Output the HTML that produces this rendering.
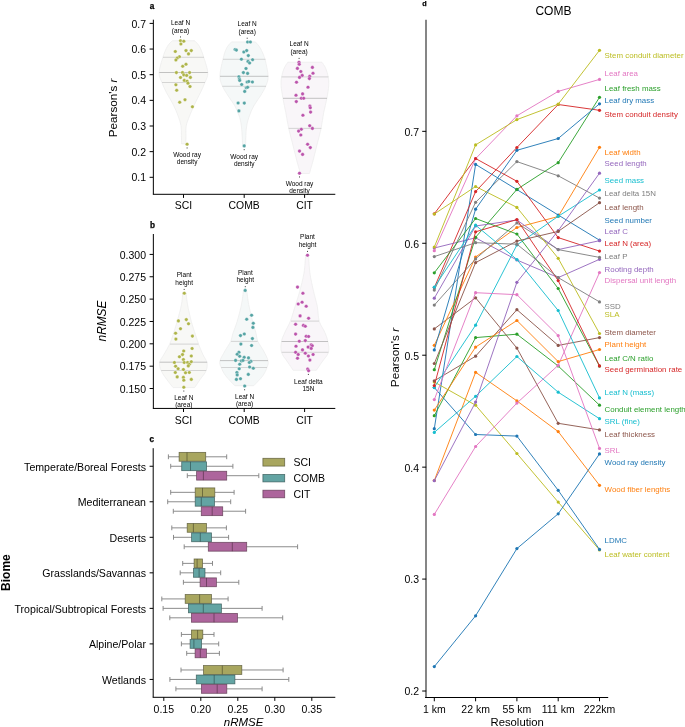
<!DOCTYPE html>
<html><head><meta charset="utf-8"><title>Figure</title>
<style>
html,body{margin:0;padding:0;background:#fff;}
body{width:685px;height:727px;overflow:hidden;font-family:"Liberation Sans", sans-serif;}
svg{display:block;will-change:transform;}
</style></head><body>
<svg width="685" height="727" viewBox="0 0 685 727" font-family='"Liberation Sans", sans-serif'>
<rect x="0" y="0" width="685" height="727" fill="#fff"/>
<path d="M172.3,40.7 C171.47,41.67 168.87,43.75 167.3,46.5 C165.73,49.25 164.27,52.85 162.9,57.2 C161.53,61.55 159.27,68.38 159.1,72.6 C158.93,76.82 160.67,79.15 161.9,82.5 C163.13,85.85 164.63,89.07 166.5,92.7 C168.37,96.33 171.17,100.43 173.1,104.3 C175.03,108.17 176.78,112.32 178.1,115.9 C179.42,119.48 180.45,122.5 181,125.8 C181.55,129.1 181.3,132.68 181.4,135.7 C181.5,138.72 181.57,142.53 181.6,143.9 L185.8,143.9 C185.83,142.53 185.93,138.72 186,135.7 C186.07,132.68 185.6,129.1 186.2,125.8 C186.8,122.5 188.2,119.48 189.6,115.9 C191,112.32 192.8,108.17 194.6,104.3 C196.4,100.43 198.67,96.33 200.4,92.7 C202.13,89.07 203.77,85.85 205,82.5 C206.23,79.15 208.02,76.82 207.8,72.6 C207.58,68.38 205.08,61.55 203.7,57.2 C202.32,52.85 201.02,49.25 199.5,46.5 C197.98,43.75 195.42,41.67 194.6,40.7Z" fill="#f8f8f6" stroke="#e9e9e9" stroke-width="0.6"/>
<path d="M231.5,41.9 C230.67,42.95 227.93,45.28 226.5,48.2 C225.07,51.12 224,54.73 222.9,59.4 C221.8,64.07 219.98,71.75 219.9,76.2 C219.82,80.65 221.02,82.8 222.4,86.1 C223.78,89.4 226.13,92.7 228.2,96 C230.27,99.3 232.88,102.32 234.8,105.9 C236.72,109.48 238.55,113.63 239.7,117.5 C240.85,121.37 241.22,124.42 241.7,129.1 C242.18,133.78 242.45,142.85 242.6,145.6 L245.6,145.6 C245.72,142.85 245.77,133.78 246.3,129.1 C246.83,124.42 247.55,121.37 248.8,117.5 C250.05,113.63 251.87,109.48 253.8,105.9 C255.73,102.32 258.4,99.3 260.4,96 C262.4,92.7 264.52,89.4 265.8,86.1 C267.08,82.8 268.23,80.65 268.1,76.2 C267.97,71.75 266.28,64.07 265,59.4 C263.72,54.73 262,51.12 260.4,48.2 C258.8,45.28 256.23,42.95 255.4,41.9Z" fill="#f5f8f8" stroke="#e9e9e9" stroke-width="0.6"/>
<path d="M287.9,62.2 C287.3,63.15 285.35,65.45 284.3,67.9 C283.25,70.35 282.13,73.92 281.6,76.9 C281.07,79.88 280.88,82.23 281.1,85.8 C281.32,89.37 282.12,93.82 282.9,98.3 C283.68,102.78 284.82,107.62 285.8,112.7 C286.78,117.78 287.55,123.13 288.8,128.8 C290.05,134.47 291.95,141.33 293.3,146.7 C294.65,152.07 295.72,156.53 296.9,161 C298.08,165.47 299.82,171.42 300.4,173.5 L309.4,173.5 C310,171.42 311.82,165.47 313,161 C314.18,156.53 315.17,152.07 316.5,146.7 C317.83,141.33 319.8,134.47 321,128.8 C322.2,123.13 322.72,117.78 323.7,112.7 C324.68,107.62 326.07,102.78 326.9,98.3 C327.73,93.82 328.48,89.37 328.7,85.8 C328.92,82.23 328.73,79.88 328.2,76.9 C327.67,73.92 326.55,70.35 325.5,67.9 C324.45,65.45 322.5,63.15 321.9,62.2Z" fill="#f9f6f9" stroke="#e9e9e9" stroke-width="0.6"/>
<line x1="163" y1="57.3" x2="204" y2="57.3" stroke="#cbcbcb" stroke-width="0.8"/>
<line x1="159.3" y1="72.5" x2="207.8" y2="72.5" stroke="#b4b4b4" stroke-width="0.8"/>
<line x1="162" y1="82.5" x2="205" y2="82.5" stroke="#cbcbcb" stroke-width="0.8"/>
<line x1="223" y1="59.3" x2="265.5" y2="59.3" stroke="#cbcbcb" stroke-width="0.8"/>
<line x1="220" y1="76.3" x2="268.3" y2="76.3" stroke="#b4b4b4" stroke-width="0.8"/>
<line x1="222.3" y1="86.3" x2="266" y2="86.3" stroke="#cbcbcb" stroke-width="0.8"/>
<line x1="281.6" y1="76.9" x2="328.4" y2="76.9" stroke="#cbcbcb" stroke-width="0.8"/>
<line x1="283" y1="98.3" x2="327" y2="98.3" stroke="#b4b4b4" stroke-width="0.8"/>
<line x1="288.6" y1="128.4" x2="321.4" y2="128.4" stroke="#cbcbcb" stroke-width="0.8"/>
<circle cx="180.5" cy="40.7" r="1.8" fill="#aeb449" stroke="#fff" stroke-width="0.35"/>
<circle cx="183.8" cy="41.2" r="1.8" fill="#aeb449" stroke="#fff" stroke-width="0.35"/>
<circle cx="180.9" cy="44" r="1.8" fill="#aeb449" stroke="#fff" stroke-width="0.35"/>
<circle cx="175.3" cy="51.5" r="1.8" fill="#aeb449" stroke="#fff" stroke-width="0.35"/>
<circle cx="186" cy="50.6" r="1.8" fill="#aeb449" stroke="#fff" stroke-width="0.35"/>
<circle cx="191.3" cy="50.6" r="1.8" fill="#aeb449" stroke="#fff" stroke-width="0.35"/>
<circle cx="188.5" cy="53.9" r="1.8" fill="#aeb449" stroke="#fff" stroke-width="0.35"/>
<circle cx="179.4" cy="56.7" r="1.8" fill="#aeb449" stroke="#fff" stroke-width="0.35"/>
<circle cx="177.2" cy="58.1" r="1.8" fill="#aeb449" stroke="#fff" stroke-width="0.35"/>
<circle cx="175.9" cy="60" r="1.8" fill="#aeb449" stroke="#fff" stroke-width="0.35"/>
<circle cx="186" cy="64.3" r="1.8" fill="#aeb449" stroke="#fff" stroke-width="0.35"/>
<circle cx="182.7" cy="66.3" r="1.8" fill="#aeb449" stroke="#fff" stroke-width="0.35"/>
<circle cx="176.4" cy="72.6" r="1.8" fill="#aeb449" stroke="#fff" stroke-width="0.35"/>
<circle cx="182.5" cy="72.6" r="1.8" fill="#aeb449" stroke="#fff" stroke-width="0.35"/>
<circle cx="189.6" cy="72.6" r="1.8" fill="#aeb449" stroke="#fff" stroke-width="0.35"/>
<circle cx="183.8" cy="74.9" r="1.8" fill="#aeb449" stroke="#fff" stroke-width="0.35"/>
<circle cx="186.7" cy="75.4" r="1.8" fill="#aeb449" stroke="#fff" stroke-width="0.35"/>
<circle cx="190.4" cy="77.4" r="1.8" fill="#aeb449" stroke="#fff" stroke-width="0.35"/>
<circle cx="180.5" cy="77.5" r="1.8" fill="#aeb449" stroke="#fff" stroke-width="0.35"/>
<circle cx="184.3" cy="80.4" r="1.8" fill="#aeb449" stroke="#fff" stroke-width="0.35"/>
<circle cx="187.1" cy="81.2" r="1.8" fill="#aeb449" stroke="#fff" stroke-width="0.35"/>
<circle cx="188" cy="83.2" r="1.8" fill="#aeb449" stroke="#fff" stroke-width="0.35"/>
<circle cx="190" cy="86.5" r="1.8" fill="#aeb449" stroke="#fff" stroke-width="0.35"/>
<circle cx="175.9" cy="84.8" r="1.8" fill="#aeb449" stroke="#fff" stroke-width="0.35"/>
<circle cx="176.7" cy="90.3" r="1.8" fill="#aeb449" stroke="#fff" stroke-width="0.35"/>
<circle cx="185" cy="99.7" r="1.8" fill="#aeb449" stroke="#fff" stroke-width="0.35"/>
<circle cx="179.7" cy="102.3" r="1.8" fill="#aeb449" stroke="#fff" stroke-width="0.35"/>
<circle cx="192.4" cy="106.8" r="1.8" fill="#aeb449" stroke="#fff" stroke-width="0.35"/>
<circle cx="187.1" cy="144.2" r="1.8" fill="#aeb449" stroke="#fff" stroke-width="0.35"/>
<circle cx="247.6" cy="42" r="1.8" fill="#55a4a4" stroke="#fff" stroke-width="0.35"/>
<circle cx="250.4" cy="42" r="1.8" fill="#55a4a4" stroke="#fff" stroke-width="0.35"/>
<circle cx="235.1" cy="49.5" r="1.8" fill="#55a4a4" stroke="#fff" stroke-width="0.35"/>
<circle cx="236.4" cy="50.1" r="1.8" fill="#55a4a4" stroke="#fff" stroke-width="0.35"/>
<circle cx="243.8" cy="52" r="1.8" fill="#55a4a4" stroke="#fff" stroke-width="0.35"/>
<circle cx="246.7" cy="50.6" r="1.8" fill="#55a4a4" stroke="#fff" stroke-width="0.35"/>
<circle cx="248.3" cy="55.6" r="1.8" fill="#55a4a4" stroke="#fff" stroke-width="0.35"/>
<circle cx="241.4" cy="59.2" r="1.8" fill="#55a4a4" stroke="#fff" stroke-width="0.35"/>
<circle cx="252.6" cy="59.7" r="1.8" fill="#55a4a4" stroke="#fff" stroke-width="0.35"/>
<circle cx="248" cy="61.4" r="1.8" fill="#55a4a4" stroke="#fff" stroke-width="0.35"/>
<circle cx="249.6" cy="63" r="1.8" fill="#55a4a4" stroke="#fff" stroke-width="0.35"/>
<circle cx="246" cy="68.5" r="1.8" fill="#55a4a4" stroke="#fff" stroke-width="0.35"/>
<circle cx="243.4" cy="72.6" r="1.8" fill="#55a4a4" stroke="#fff" stroke-width="0.35"/>
<circle cx="247.6" cy="73.4" r="1.8" fill="#55a4a4" stroke="#fff" stroke-width="0.35"/>
<circle cx="238.9" cy="76.7" r="1.8" fill="#55a4a4" stroke="#fff" stroke-width="0.35"/>
<circle cx="239.4" cy="79" r="1.8" fill="#55a4a4" stroke="#fff" stroke-width="0.35"/>
<circle cx="239.7" cy="80.4" r="1.8" fill="#55a4a4" stroke="#fff" stroke-width="0.35"/>
<circle cx="247.1" cy="82" r="1.8" fill="#55a4a4" stroke="#fff" stroke-width="0.35"/>
<circle cx="248.8" cy="81.5" r="1.8" fill="#55a4a4" stroke="#fff" stroke-width="0.35"/>
<circle cx="252.4" cy="82" r="1.8" fill="#55a4a4" stroke="#fff" stroke-width="0.35"/>
<circle cx="241.7" cy="84.5" r="1.8" fill="#55a4a4" stroke="#fff" stroke-width="0.35"/>
<circle cx="246.3" cy="87.8" r="1.8" fill="#55a4a4" stroke="#fff" stroke-width="0.35"/>
<circle cx="247.6" cy="87.3" r="1.8" fill="#55a4a4" stroke="#fff" stroke-width="0.35"/>
<circle cx="244.7" cy="91.4" r="1.8" fill="#55a4a4" stroke="#fff" stroke-width="0.35"/>
<circle cx="238.1" cy="103" r="1.8" fill="#55a4a4" stroke="#fff" stroke-width="0.35"/>
<circle cx="244.3" cy="103.1" r="1.8" fill="#55a4a4" stroke="#fff" stroke-width="0.35"/>
<circle cx="238.9" cy="110.9" r="1.8" fill="#55a4a4" stroke="#fff" stroke-width="0.35"/>
<circle cx="244.2" cy="145.9" r="1.8" fill="#55a4a4" stroke="#fff" stroke-width="0.35"/>
<circle cx="299" cy="62.2" r="1.8" fill="#bb53ab" stroke="#fff" stroke-width="0.35"/>
<circle cx="299.2" cy="64.3" r="1.8" fill="#bb53ab" stroke="#fff" stroke-width="0.35"/>
<circle cx="297.4" cy="68.4" r="1.8" fill="#bb53ab" stroke="#fff" stroke-width="0.35"/>
<circle cx="312.4" cy="67.4" r="1.8" fill="#bb53ab" stroke="#fff" stroke-width="0.35"/>
<circle cx="300.8" cy="71.5" r="1.8" fill="#bb53ab" stroke="#fff" stroke-width="0.35"/>
<circle cx="313" cy="73.3" r="1.8" fill="#bb53ab" stroke="#fff" stroke-width="0.35"/>
<circle cx="302.2" cy="75.4" r="1.8" fill="#bb53ab" stroke="#fff" stroke-width="0.35"/>
<circle cx="299.5" cy="77.4" r="1.8" fill="#bb53ab" stroke="#fff" stroke-width="0.35"/>
<circle cx="309.7" cy="76.3" r="1.8" fill="#bb53ab" stroke="#fff" stroke-width="0.35"/>
<circle cx="309.4" cy="78.6" r="1.8" fill="#bb53ab" stroke="#fff" stroke-width="0.35"/>
<circle cx="296.5" cy="82.2" r="1.8" fill="#bb53ab" stroke="#fff" stroke-width="0.35"/>
<circle cx="308" cy="87.2" r="1.8" fill="#bb53ab" stroke="#fff" stroke-width="0.35"/>
<circle cx="296" cy="95.3" r="1.8" fill="#bb53ab" stroke="#fff" stroke-width="0.35"/>
<circle cx="302.6" cy="93.9" r="1.8" fill="#bb53ab" stroke="#fff" stroke-width="0.35"/>
<circle cx="301.3" cy="98.3" r="1.8" fill="#bb53ab" stroke="#fff" stroke-width="0.35"/>
<circle cx="303.7" cy="98.3" r="1.8" fill="#bb53ab" stroke="#fff" stroke-width="0.35"/>
<circle cx="296.3" cy="101.6" r="1.8" fill="#bb53ab" stroke="#fff" stroke-width="0.35"/>
<circle cx="309.9" cy="106" r="1.8" fill="#bb53ab" stroke="#fff" stroke-width="0.35"/>
<circle cx="310.3" cy="107.8" r="1.8" fill="#bb53ab" stroke="#fff" stroke-width="0.35"/>
<circle cx="310.6" cy="112.1" r="1.8" fill="#bb53ab" stroke="#fff" stroke-width="0.35"/>
<circle cx="302.9" cy="115.3" r="1.8" fill="#bb53ab" stroke="#fff" stroke-width="0.35"/>
<circle cx="309.7" cy="125.7" r="1.8" fill="#bb53ab" stroke="#fff" stroke-width="0.35"/>
<circle cx="312.4" cy="128.4" r="1.8" fill="#bb53ab" stroke="#fff" stroke-width="0.35"/>
<circle cx="301.3" cy="129.3" r="1.8" fill="#bb53ab" stroke="#fff" stroke-width="0.35"/>
<circle cx="298.6" cy="131.1" r="1.8" fill="#bb53ab" stroke="#fff" stroke-width="0.35"/>
<circle cx="300.8" cy="135" r="1.8" fill="#bb53ab" stroke="#fff" stroke-width="0.35"/>
<circle cx="307.6" cy="144.3" r="1.8" fill="#bb53ab" stroke="#fff" stroke-width="0.35"/>
<circle cx="310.3" cy="147.6" r="1.8" fill="#bb53ab" stroke="#fff" stroke-width="0.35"/>
<circle cx="299.5" cy="151.1" r="1.8" fill="#bb53ab" stroke="#fff" stroke-width="0.35"/>
<circle cx="302.6" cy="154.4" r="1.8" fill="#bb53ab" stroke="#fff" stroke-width="0.35"/>
<circle cx="299.5" cy="173.2" r="1.8" fill="#bb53ab" stroke="#fff" stroke-width="0.35"/>
<line x1="180.5" y1="36.4" x2="180.5" y2="37.5" stroke="#222" stroke-width="0.8"/>
<text x="180.5" y="24.9" font-size="6.5" text-anchor="middle" fill="#000">Leaf N</text>
<text x="180.5" y="32.6" font-size="6.5" text-anchor="middle" fill="#000">(area)</text>
<line x1="247.2" y1="37.7" x2="247.2" y2="38.8" stroke="#222" stroke-width="0.8"/>
<text x="247.2" y="26.2" font-size="6.5" text-anchor="middle" fill="#000">Leaf N</text>
<text x="247.2" y="33.9" font-size="6.5" text-anchor="middle" fill="#000">(area)</text>
<line x1="299.1" y1="57.9" x2="299.1" y2="59" stroke="#222" stroke-width="0.8"/>
<text x="299.1" y="46.4" font-size="6.5" text-anchor="middle" fill="#000">Leaf N</text>
<text x="299.1" y="54.1" font-size="6.5" text-anchor="middle" fill="#000">(area)</text>
<line x1="187.1" y1="147.4" x2="187.1" y2="148.5" stroke="#222" stroke-width="0.8"/>
<text x="187.1" y="157" font-size="6.5" text-anchor="middle" fill="#000">Wood ray</text>
<text x="187.1" y="164.2" font-size="6.5" text-anchor="middle" fill="#000">density</text>
<line x1="244.2" y1="149.1" x2="244.2" y2="150.2" stroke="#222" stroke-width="0.8"/>
<text x="244.2" y="158.7" font-size="6.5" text-anchor="middle" fill="#000">Wood ray</text>
<text x="244.2" y="165.9" font-size="6.5" text-anchor="middle" fill="#000">density</text>
<line x1="299.5" y1="176.4" x2="299.5" y2="177.5" stroke="#222" stroke-width="0.8"/>
<text x="299.5" y="186" font-size="6.5" text-anchor="middle" fill="#000">Wood ray</text>
<text x="299.5" y="193.2" font-size="6.5" text-anchor="middle" fill="#000">density</text>
<line x1="153.35" y1="19.7" x2="153.35" y2="194.3" stroke="#000" stroke-width="1.0"/>
<line x1="152.85" y1="194.3" x2="335.3" y2="194.3" stroke="#000" stroke-width="1.0"/>
<line x1="149.6" y1="177.3" x2="153.2" y2="177.3" stroke="#000" stroke-width="1.0"/>
<text x="146" y="181.4" font-size="10.5" text-anchor="end" fill="#000">0.1</text>
<line x1="149.6" y1="151.65" x2="153.2" y2="151.65" stroke="#000" stroke-width="1.0"/>
<text x="146" y="155.75" font-size="10.5" text-anchor="end" fill="#000">0.2</text>
<line x1="149.6" y1="126" x2="153.2" y2="126" stroke="#000" stroke-width="1.0"/>
<text x="146" y="130.1" font-size="10.5" text-anchor="end" fill="#000">0.3</text>
<line x1="149.6" y1="100.35" x2="153.2" y2="100.35" stroke="#000" stroke-width="1.0"/>
<text x="146" y="104.45" font-size="10.5" text-anchor="end" fill="#000">0.4</text>
<line x1="149.6" y1="74.7" x2="153.2" y2="74.7" stroke="#000" stroke-width="1.0"/>
<text x="146" y="78.8" font-size="10.5" text-anchor="end" fill="#000">0.5</text>
<line x1="149.6" y1="49.05" x2="153.2" y2="49.05" stroke="#000" stroke-width="1.0"/>
<text x="146" y="53.15" font-size="10.5" text-anchor="end" fill="#000">0.6</text>
<line x1="149.6" y1="23.4" x2="153.2" y2="23.4" stroke="#000" stroke-width="1.0"/>
<text x="146" y="27.5" font-size="10.5" text-anchor="end" fill="#000">0.7</text>
<line x1="183.5" y1="194.3" x2="183.5" y2="197.9" stroke="#000" stroke-width="1.0"/>
<text x="183.5" y="209.4" font-size="10.4" text-anchor="middle" fill="#000">SCI</text>
<line x1="244.2" y1="194.3" x2="244.2" y2="197.9" stroke="#000" stroke-width="1.0"/>
<text x="244.2" y="209.4" font-size="10.4" text-anchor="middle" fill="#000">COMB</text>
<line x1="304.6" y1="194.3" x2="304.6" y2="197.9" stroke="#000" stroke-width="1.0"/>
<text x="304.6" y="209.4" font-size="10.4" text-anchor="middle" fill="#000">CIT</text>
<text transform="translate(117.2,107.9) rotate(-90)" font-size="11.65" text-anchor="middle">Pearson's <tspan font-style="italic">r</tspan></text>
<text x="149.8" y="8.6" font-size="8.2" text-anchor="start" fill="#000" font-weight="bold" stroke="#000" stroke-width="0.25">a</text>
<path d="M182.7,292.4 C182.48,294.47 182.32,299.98 181.4,304.8 C180.48,309.62 178.58,316.35 177.2,321.3 C175.82,326.25 174.38,330.65 173.1,334.5 C171.82,338.35 171.02,341.1 169.5,344.4 C167.98,347.7 165.65,351.28 164,354.3 C162.35,357.32 160.07,359.75 159.6,362.5 C159.13,365.25 160.05,368.03 161.2,370.8 C162.35,373.57 164.52,376.3 166.5,379.1 C168.48,381.9 172,386.18 173.1,387.6 L194.6,387.6 C195.57,386.18 198.48,381.9 200.4,379.1 C202.32,376.3 205,373.57 206.1,370.8 C207.2,368.03 207.55,365.25 207,362.5 C206.45,359.75 204.18,357.32 202.8,354.3 C201.42,351.28 199.93,347.7 198.7,344.4 C197.47,341.1 196.63,338.35 195.4,334.5 C194.17,330.65 192.6,326.25 191.3,321.3 C190,316.35 188.48,309.62 187.6,304.8 C186.72,299.98 186.27,294.47 186,292.4Z" fill="#f8f8f6" stroke="#e9e9e9" stroke-width="0.6"/>
<path d="M243.5,290.2 C243.15,292.63 242.45,299.62 241.4,304.8 C240.35,309.98 238.58,316.63 237.2,321.3 C235.82,325.97 234.2,329.45 233.1,332.8 C232,336.15 231.97,338.37 230.6,341.4 C229.23,344.43 226.68,347.75 224.9,351 C223.12,354.25 220.52,358.15 219.9,360.9 C219.28,363.65 220.23,365.02 221.2,367.5 C222.17,369.98 223.43,372.77 225.7,375.8 C227.97,378.83 233.28,384.05 234.8,385.7 L253.8,385.7 C255.3,384.05 260.6,378.83 262.8,375.8 C265,372.77 266.12,369.98 267,367.5 C267.88,365.02 268.65,363.65 268.1,360.9 C267.55,358.15 265.4,354.25 263.7,351 C262,347.75 259.2,344.43 257.9,341.4 C256.6,338.37 256.78,336.15 255.9,332.8 C255.02,329.45 253.78,325.97 252.6,321.3 C251.42,316.63 249.78,309.98 248.8,304.8 C247.82,299.62 247.05,292.63 246.7,290.2Z" fill="#f5f8f8" stroke="#e9e9e9" stroke-width="0.6"/>
<path d="M305.6,255.2 C305.33,258.15 304.98,266.87 304,272.9 C303.02,278.93 301.18,285.83 299.7,291.4 C298.22,296.97 296.65,301.35 295.1,306.3 C293.55,311.25 292.1,316.77 290.4,321.1 C288.7,325.43 286.38,328.9 284.9,332.3 C283.42,335.7 282.07,338.17 281.5,341.5 C280.93,344.83 280.48,348.88 281.5,352.3 C282.52,355.72 285.65,359 287.6,362 C289.55,365 292.27,368.92 293.2,370.3 L316.4,370.3 C317.33,368.92 319.98,365 322,362 C324.02,359 327.52,355.72 328.5,352.3 C329.48,348.88 328.52,344.83 327.9,341.5 C327.28,338.17 326.25,335.7 324.8,332.3 C323.35,328.9 320.45,325.43 319.2,321.1 C317.95,316.77 318.23,311.25 317.3,306.3 C316.37,301.35 314.83,296.97 313.6,291.4 C312.37,285.83 310.73,278.93 309.9,272.9 C309.07,266.87 308.82,258.15 308.6,255.2Z" fill="#f9f6f9" stroke="#e9e9e9" stroke-width="0.6"/>
<line x1="170" y1="344.1" x2="198.5" y2="344.1" stroke="#cbcbcb" stroke-width="0.8"/>
<line x1="159.6" y1="362.2" x2="207.2" y2="362.2" stroke="#b4b4b4" stroke-width="0.8"/>
<line x1="161.2" y1="370.5" x2="206.2" y2="370.5" stroke="#cbcbcb" stroke-width="0.8"/>
<line x1="231" y1="341.4" x2="257.6" y2="341.4" stroke="#cbcbcb" stroke-width="0.8"/>
<line x1="220" y1="360.6" x2="268" y2="360.6" stroke="#b4b4b4" stroke-width="0.8"/>
<line x1="221.2" y1="367.5" x2="267" y2="367.5" stroke="#cbcbcb" stroke-width="0.8"/>
<line x1="291" y1="321.1" x2="319" y2="321.1" stroke="#cbcbcb" stroke-width="0.8"/>
<line x1="281.6" y1="341.5" x2="328" y2="341.5" stroke="#b4b4b4" stroke-width="0.8"/>
<line x1="281.6" y1="352.3" x2="328.4" y2="352.3" stroke="#cbcbcb" stroke-width="0.8"/>
<circle cx="184.3" cy="293.2" r="1.8" fill="#aeb449" stroke="#fff" stroke-width="0.35"/>
<circle cx="178.4" cy="320.9" r="1.8" fill="#aeb449" stroke="#fff" stroke-width="0.35"/>
<circle cx="186.3" cy="319.6" r="1.8" fill="#aeb449" stroke="#fff" stroke-width="0.35"/>
<circle cx="188.5" cy="323.8" r="1.8" fill="#aeb449" stroke="#fff" stroke-width="0.35"/>
<circle cx="180.5" cy="328.7" r="1.8" fill="#aeb449" stroke="#fff" stroke-width="0.35"/>
<circle cx="175.6" cy="333.2" r="1.8" fill="#aeb449" stroke="#fff" stroke-width="0.35"/>
<circle cx="175.9" cy="339.1" r="1.8" fill="#aeb449" stroke="#fff" stroke-width="0.35"/>
<circle cx="192.4" cy="336.1" r="1.8" fill="#aeb449" stroke="#fff" stroke-width="0.35"/>
<circle cx="183.7" cy="351" r="1.8" fill="#aeb449" stroke="#fff" stroke-width="0.35"/>
<circle cx="192.1" cy="348.5" r="1.8" fill="#aeb449" stroke="#fff" stroke-width="0.35"/>
<circle cx="182.5" cy="354.6" r="1.8" fill="#aeb449" stroke="#fff" stroke-width="0.35"/>
<circle cx="179.4" cy="356.8" r="1.8" fill="#aeb449" stroke="#fff" stroke-width="0.35"/>
<circle cx="191.3" cy="356" r="1.8" fill="#aeb449" stroke="#fff" stroke-width="0.35"/>
<circle cx="183.4" cy="359.6" r="1.8" fill="#aeb449" stroke="#fff" stroke-width="0.35"/>
<circle cx="174.4" cy="362.5" r="1.8" fill="#aeb449" stroke="#fff" stroke-width="0.35"/>
<circle cx="184.2" cy="362.5" r="1.8" fill="#aeb449" stroke="#fff" stroke-width="0.35"/>
<circle cx="187.6" cy="362.5" r="1.8" fill="#aeb449" stroke="#fff" stroke-width="0.35"/>
<circle cx="189.3" cy="364.2" r="1.8" fill="#aeb449" stroke="#fff" stroke-width="0.35"/>
<circle cx="191.3" cy="361.7" r="1.8" fill="#aeb449" stroke="#fff" stroke-width="0.35"/>
<circle cx="188.3" cy="365.9" r="1.8" fill="#aeb449" stroke="#fff" stroke-width="0.35"/>
<circle cx="175.6" cy="366.2" r="1.8" fill="#aeb449" stroke="#fff" stroke-width="0.35"/>
<circle cx="178.1" cy="368.7" r="1.8" fill="#aeb449" stroke="#fff" stroke-width="0.35"/>
<circle cx="183.4" cy="369.5" r="1.8" fill="#aeb449" stroke="#fff" stroke-width="0.35"/>
<circle cx="175.3" cy="372.5" r="1.8" fill="#aeb449" stroke="#fff" stroke-width="0.35"/>
<circle cx="185.5" cy="372.8" r="1.8" fill="#aeb449" stroke="#fff" stroke-width="0.35"/>
<circle cx="189.3" cy="372.5" r="1.8" fill="#aeb449" stroke="#fff" stroke-width="0.35"/>
<circle cx="177.2" cy="376.9" r="1.8" fill="#aeb449" stroke="#fff" stroke-width="0.35"/>
<circle cx="183.4" cy="377.4" r="1.8" fill="#aeb449" stroke="#fff" stroke-width="0.35"/>
<circle cx="183.8" cy="380.2" r="1.8" fill="#aeb449" stroke="#fff" stroke-width="0.35"/>
<circle cx="191.3" cy="379.4" r="1.8" fill="#aeb449" stroke="#fff" stroke-width="0.35"/>
<circle cx="183.8" cy="387.3" r="1.8" fill="#aeb449" stroke="#fff" stroke-width="0.35"/>
<circle cx="245.2" cy="290.4" r="1.8" fill="#55a4a4" stroke="#fff" stroke-width="0.35"/>
<circle cx="251.6" cy="315.2" r="1.8" fill="#55a4a4" stroke="#fff" stroke-width="0.35"/>
<circle cx="246.7" cy="319.3" r="1.8" fill="#55a4a4" stroke="#fff" stroke-width="0.35"/>
<circle cx="253.3" cy="323.3" r="1.8" fill="#55a4a4" stroke="#fff" stroke-width="0.35"/>
<circle cx="252.9" cy="327.4" r="1.8" fill="#55a4a4" stroke="#fff" stroke-width="0.35"/>
<circle cx="244.3" cy="334" r="1.8" fill="#55a4a4" stroke="#fff" stroke-width="0.35"/>
<circle cx="240.5" cy="335.6" r="1.8" fill="#55a4a4" stroke="#fff" stroke-width="0.35"/>
<circle cx="252.4" cy="338.6" r="1.8" fill="#55a4a4" stroke="#fff" stroke-width="0.35"/>
<circle cx="240.9" cy="344.1" r="1.8" fill="#55a4a4" stroke="#fff" stroke-width="0.35"/>
<circle cx="251.6" cy="345.5" r="1.8" fill="#55a4a4" stroke="#fff" stroke-width="0.35"/>
<circle cx="238.9" cy="352.3" r="1.8" fill="#55a4a4" stroke="#fff" stroke-width="0.35"/>
<circle cx="237.2" cy="354.3" r="1.8" fill="#55a4a4" stroke="#fff" stroke-width="0.35"/>
<circle cx="239.7" cy="356.3" r="1.8" fill="#55a4a4" stroke="#fff" stroke-width="0.35"/>
<circle cx="244.2" cy="357.3" r="1.8" fill="#55a4a4" stroke="#fff" stroke-width="0.35"/>
<circle cx="248.5" cy="357.9" r="1.8" fill="#55a4a4" stroke="#fff" stroke-width="0.35"/>
<circle cx="235.6" cy="360.4" r="1.8" fill="#55a4a4" stroke="#fff" stroke-width="0.35"/>
<circle cx="241.4" cy="360.9" r="1.8" fill="#55a4a4" stroke="#fff" stroke-width="0.35"/>
<circle cx="243" cy="360.4" r="1.8" fill="#55a4a4" stroke="#fff" stroke-width="0.35"/>
<circle cx="250.9" cy="361.4" r="1.8" fill="#55a4a4" stroke="#fff" stroke-width="0.35"/>
<circle cx="249.3" cy="362.5" r="1.8" fill="#55a4a4" stroke="#fff" stroke-width="0.35"/>
<circle cx="239.7" cy="364.2" r="1.8" fill="#55a4a4" stroke="#fff" stroke-width="0.35"/>
<circle cx="249.6" cy="367" r="1.8" fill="#55a4a4" stroke="#fff" stroke-width="0.35"/>
<circle cx="253.3" cy="368.3" r="1.8" fill="#55a4a4" stroke="#fff" stroke-width="0.35"/>
<circle cx="239.2" cy="368.8" r="1.8" fill="#55a4a4" stroke="#fff" stroke-width="0.35"/>
<circle cx="236.9" cy="372.5" r="1.8" fill="#55a4a4" stroke="#fff" stroke-width="0.35"/>
<circle cx="237.2" cy="374.9" r="1.8" fill="#55a4a4" stroke="#fff" stroke-width="0.35"/>
<circle cx="248.3" cy="374.4" r="1.8" fill="#55a4a4" stroke="#fff" stroke-width="0.35"/>
<circle cx="236.4" cy="379.4" r="1.8" fill="#55a4a4" stroke="#fff" stroke-width="0.35"/>
<circle cx="240.5" cy="378.7" r="1.8" fill="#55a4a4" stroke="#fff" stroke-width="0.35"/>
<circle cx="244.7" cy="386" r="1.8" fill="#55a4a4" stroke="#fff" stroke-width="0.35"/>
<circle cx="307.5" cy="255.2" r="1.8" fill="#bb53ab" stroke="#fff" stroke-width="0.35"/>
<circle cx="297.5" cy="287.1" r="1.8" fill="#bb53ab" stroke="#fff" stroke-width="0.35"/>
<circle cx="302.9" cy="293.3" r="1.8" fill="#bb53ab" stroke="#fff" stroke-width="0.35"/>
<circle cx="298.2" cy="304" r="1.8" fill="#bb53ab" stroke="#fff" stroke-width="0.35"/>
<circle cx="302.1" cy="302.2" r="1.8" fill="#bb53ab" stroke="#fff" stroke-width="0.35"/>
<circle cx="306.2" cy="306.3" r="1.8" fill="#bb53ab" stroke="#fff" stroke-width="0.35"/>
<circle cx="300.1" cy="315.9" r="1.8" fill="#bb53ab" stroke="#fff" stroke-width="0.35"/>
<circle cx="308.6" cy="318.3" r="1.8" fill="#bb53ab" stroke="#fff" stroke-width="0.35"/>
<circle cx="295.6" cy="324.3" r="1.8" fill="#bb53ab" stroke="#fff" stroke-width="0.35"/>
<circle cx="303.4" cy="325.4" r="1.8" fill="#bb53ab" stroke="#fff" stroke-width="0.35"/>
<circle cx="305.3" cy="326.3" r="1.8" fill="#bb53ab" stroke="#fff" stroke-width="0.35"/>
<circle cx="295.6" cy="334.1" r="1.8" fill="#bb53ab" stroke="#fff" stroke-width="0.35"/>
<circle cx="306.2" cy="336.3" r="1.8" fill="#bb53ab" stroke="#fff" stroke-width="0.35"/>
<circle cx="308.6" cy="336.5" r="1.8" fill="#bb53ab" stroke="#fff" stroke-width="0.35"/>
<circle cx="299.3" cy="341.2" r="1.8" fill="#bb53ab" stroke="#fff" stroke-width="0.35"/>
<circle cx="305.3" cy="340.6" r="1.8" fill="#bb53ab" stroke="#fff" stroke-width="0.35"/>
<circle cx="311.2" cy="344.9" r="1.8" fill="#bb53ab" stroke="#fff" stroke-width="0.35"/>
<circle cx="312.3" cy="345.8" r="1.8" fill="#bb53ab" stroke="#fff" stroke-width="0.35"/>
<circle cx="308.1" cy="347.1" r="1.8" fill="#bb53ab" stroke="#fff" stroke-width="0.35"/>
<circle cx="311.2" cy="348.4" r="1.8" fill="#bb53ab" stroke="#fff" stroke-width="0.35"/>
<circle cx="296" cy="346.2" r="1.8" fill="#bb53ab" stroke="#fff" stroke-width="0.35"/>
<circle cx="302.5" cy="349.9" r="1.8" fill="#bb53ab" stroke="#fff" stroke-width="0.35"/>
<circle cx="295.6" cy="352.3" r="1.8" fill="#bb53ab" stroke="#fff" stroke-width="0.35"/>
<circle cx="298.2" cy="354.5" r="1.8" fill="#bb53ab" stroke="#fff" stroke-width="0.35"/>
<circle cx="305.3" cy="353.2" r="1.8" fill="#bb53ab" stroke="#fff" stroke-width="0.35"/>
<circle cx="313.1" cy="354.5" r="1.8" fill="#bb53ab" stroke="#fff" stroke-width="0.35"/>
<circle cx="308.4" cy="356" r="1.8" fill="#bb53ab" stroke="#fff" stroke-width="0.35"/>
<circle cx="297.5" cy="358.3" r="1.8" fill="#bb53ab" stroke="#fff" stroke-width="0.35"/>
<circle cx="309.9" cy="360.1" r="1.8" fill="#bb53ab" stroke="#fff" stroke-width="0.35"/>
<circle cx="307.7" cy="369" r="1.8" fill="#bb53ab" stroke="#fff" stroke-width="0.35"/>
<circle cx="308.6" cy="370.7" r="1.8" fill="#bb53ab" stroke="#fff" stroke-width="0.35"/>
<line x1="184.2" y1="288.9" x2="184.2" y2="290" stroke="#222" stroke-width="0.8"/>
<text x="184.2" y="277.4" font-size="6.5" text-anchor="middle" fill="#000">Plant</text>
<text x="184.2" y="285.1" font-size="6.5" text-anchor="middle" fill="#000">height</text>
<line x1="245.3" y1="286.1" x2="245.3" y2="287.2" stroke="#222" stroke-width="0.8"/>
<text x="245.3" y="274.6" font-size="6.5" text-anchor="middle" fill="#000">Plant</text>
<text x="245.3" y="282.3" font-size="6.5" text-anchor="middle" fill="#000">height</text>
<line x1="307.5" y1="250.9" x2="307.5" y2="252" stroke="#222" stroke-width="0.8"/>
<text x="307.5" y="239.4" font-size="6.5" text-anchor="middle" fill="#000">Plant</text>
<text x="307.5" y="247.1" font-size="6.5" text-anchor="middle" fill="#000">height</text>
<line x1="183.8" y1="390.5" x2="183.8" y2="391.6" stroke="#222" stroke-width="0.8"/>
<text x="183.8" y="400.1" font-size="6.5" text-anchor="middle" fill="#000">Leaf N</text>
<text x="183.8" y="407.3" font-size="6.5" text-anchor="middle" fill="#000">(area)</text>
<line x1="244.6" y1="389.2" x2="244.6" y2="390.3" stroke="#222" stroke-width="0.8"/>
<text x="244.6" y="398.8" font-size="6.5" text-anchor="middle" fill="#000">Leaf N</text>
<text x="244.6" y="406" font-size="6.5" text-anchor="middle" fill="#000">(area)</text>
<line x1="308.4" y1="373.9" x2="308.4" y2="375" stroke="#222" stroke-width="0.8"/>
<text x="308.4" y="383.5" font-size="6.5" text-anchor="middle" fill="#000">Leaf delta</text>
<text x="308.4" y="390.7" font-size="6.5" text-anchor="middle" fill="#000">15N</text>
<line x1="153.35" y1="234" x2="153.35" y2="408.43" stroke="#000" stroke-width="1.0"/>
<line x1="152.85" y1="408.43" x2="335.3" y2="408.43" stroke="#000" stroke-width="1.0"/>
<line x1="149.6" y1="388.53" x2="153.2" y2="388.53" stroke="#000" stroke-width="1.0"/>
<text x="146" y="392.63" font-size="10.5" text-anchor="end" fill="#000">0.150</text>
<line x1="149.6" y1="366.18" x2="153.2" y2="366.18" stroke="#000" stroke-width="1.0"/>
<text x="146" y="370.28" font-size="10.5" text-anchor="end" fill="#000">0.175</text>
<line x1="149.6" y1="343.82" x2="153.2" y2="343.82" stroke="#000" stroke-width="1.0"/>
<text x="146" y="347.92" font-size="10.5" text-anchor="end" fill="#000">0.200</text>
<line x1="149.6" y1="321.47" x2="153.2" y2="321.47" stroke="#000" stroke-width="1.0"/>
<text x="146" y="325.57" font-size="10.5" text-anchor="end" fill="#000">0.225</text>
<line x1="149.6" y1="299.12" x2="153.2" y2="299.12" stroke="#000" stroke-width="1.0"/>
<text x="146" y="303.22" font-size="10.5" text-anchor="end" fill="#000">0.250</text>
<line x1="149.6" y1="276.76" x2="153.2" y2="276.76" stroke="#000" stroke-width="1.0"/>
<text x="146" y="280.86" font-size="10.5" text-anchor="end" fill="#000">0.275</text>
<line x1="149.6" y1="254.41" x2="153.2" y2="254.41" stroke="#000" stroke-width="1.0"/>
<text x="146" y="258.51" font-size="10.5" text-anchor="end" fill="#000">0.300</text>
<line x1="183.5" y1="408.43" x2="183.5" y2="412" stroke="#000" stroke-width="1.0"/>
<text x="183.5" y="423.6" font-size="10.4" text-anchor="middle" fill="#000">SCI</text>
<line x1="244.2" y1="408.43" x2="244.2" y2="412" stroke="#000" stroke-width="1.0"/>
<text x="244.2" y="423.6" font-size="10.4" text-anchor="middle" fill="#000">COMB</text>
<line x1="304.6" y1="408.43" x2="304.6" y2="412" stroke="#000" stroke-width="1.0"/>
<text x="304.6" y="423.6" font-size="10.4" text-anchor="middle" fill="#000">CIT</text>
<text transform="translate(106.3,321) rotate(-90)" font-size="11.9" text-anchor="middle" font-style="italic">nRMSE</text>
<text x="149.9" y="228" font-size="8.2" text-anchor="start" fill="#000" font-weight="bold" stroke="#000" stroke-width="0.25">b</text>
<line x1="168.4" y1="456.8" x2="179.1" y2="456.8" stroke="#868686" stroke-width="0.95"/>
<line x1="205.7" y1="456.8" x2="226.7" y2="456.8" stroke="#868686" stroke-width="0.95"/>
<line x1="168.4" y1="454.4" x2="168.4" y2="459.2" stroke="#868686" stroke-width="0.95"/>
<line x1="226.7" y1="454.4" x2="226.7" y2="459.2" stroke="#868686" stroke-width="0.95"/>
<rect x="179.1" y="452.38" width="26.6" height="8.85" fill="#a8a65f" stroke="#4f4d2c" stroke-width="0.8" stroke-opacity="0.75"/>
<line x1="187" y1="452.38" x2="187" y2="461.22" stroke="#4f4d2c" stroke-width="1.0" stroke-opacity="0.65"/>
<line x1="170.7" y1="466.25" x2="181.7" y2="466.25" stroke="#868686" stroke-width="0.95"/>
<line x1="206.6" y1="466.25" x2="232.9" y2="466.25" stroke="#868686" stroke-width="0.95"/>
<line x1="170.7" y1="463.85" x2="170.7" y2="468.65" stroke="#868686" stroke-width="0.95"/>
<line x1="232.9" y1="463.85" x2="232.9" y2="468.65" stroke="#868686" stroke-width="0.95"/>
<rect x="181.7" y="461.82" width="24.9" height="8.85" fill="#63a4a3" stroke="#2e4f4e" stroke-width="0.8" stroke-opacity="0.75"/>
<line x1="190.5" y1="461.82" x2="190.5" y2="470.67" stroke="#2e4f4e" stroke-width="1.0" stroke-opacity="0.65"/>
<line x1="187.3" y1="475.7" x2="196.6" y2="475.7" stroke="#868686" stroke-width="0.95"/>
<line x1="226.7" y1="475.7" x2="258.8" y2="475.7" stroke="#868686" stroke-width="0.95"/>
<line x1="187.3" y1="473.3" x2="187.3" y2="478.1" stroke="#868686" stroke-width="0.95"/>
<line x1="258.8" y1="473.3" x2="258.8" y2="478.1" stroke="#868686" stroke-width="0.95"/>
<rect x="196.6" y="471.27" width="30.1" height="8.85" fill="#ad659c" stroke="#553048" stroke-width="0.8" stroke-opacity="0.75"/>
<line x1="203.4" y1="471.27" x2="203.4" y2="480.12" stroke="#553048" stroke-width="1.0" stroke-opacity="0.65"/>
<line x1="170.7" y1="492.33" x2="195.2" y2="492.33" stroke="#868686" stroke-width="0.95"/>
<line x1="214.8" y1="492.33" x2="234.1" y2="492.33" stroke="#868686" stroke-width="0.95"/>
<line x1="170.7" y1="489.93" x2="170.7" y2="494.73" stroke="#868686" stroke-width="0.95"/>
<line x1="234.1" y1="489.93" x2="234.1" y2="494.73" stroke="#868686" stroke-width="0.95"/>
<rect x="195.2" y="487.9" width="19.6" height="8.85" fill="#a8a65f" stroke="#4f4d2c" stroke-width="0.8" stroke-opacity="0.75"/>
<line x1="202.5" y1="487.9" x2="202.5" y2="496.75" stroke="#4f4d2c" stroke-width="1.0" stroke-opacity="0.65"/>
<line x1="167.7" y1="501.78" x2="195.2" y2="501.78" stroke="#868686" stroke-width="0.95"/>
<line x1="214.5" y1="501.78" x2="230.7" y2="501.78" stroke="#868686" stroke-width="0.95"/>
<line x1="167.7" y1="499.38" x2="167.7" y2="504.18" stroke="#868686" stroke-width="0.95"/>
<line x1="230.7" y1="499.38" x2="230.7" y2="504.18" stroke="#868686" stroke-width="0.95"/>
<rect x="195.2" y="497.35" width="19.3" height="8.85" fill="#63a4a3" stroke="#2e4f4e" stroke-width="0.8" stroke-opacity="0.75"/>
<line x1="201.3" y1="497.35" x2="201.3" y2="506.2" stroke="#2e4f4e" stroke-width="1.0" stroke-opacity="0.65"/>
<line x1="173.3" y1="511.23" x2="201.3" y2="511.23" stroke="#868686" stroke-width="0.95"/>
<line x1="222.7" y1="511.23" x2="245.6" y2="511.23" stroke="#868686" stroke-width="0.95"/>
<line x1="173.3" y1="508.83" x2="173.3" y2="513.63" stroke="#868686" stroke-width="0.95"/>
<line x1="245.6" y1="508.83" x2="245.6" y2="513.63" stroke="#868686" stroke-width="0.95"/>
<rect x="201.3" y="506.8" width="21.4" height="8.85" fill="#ad659c" stroke="#553048" stroke-width="0.8" stroke-opacity="0.75"/>
<line x1="212.2" y1="506.8" x2="212.2" y2="515.65" stroke="#553048" stroke-width="1.0" stroke-opacity="0.65"/>
<line x1="171.8" y1="527.86" x2="187.2" y2="527.86" stroke="#868686" stroke-width="0.95"/>
<line x1="206.5" y1="527.86" x2="226.4" y2="527.86" stroke="#868686" stroke-width="0.95"/>
<line x1="171.8" y1="525.46" x2="171.8" y2="530.26" stroke="#868686" stroke-width="0.95"/>
<line x1="226.4" y1="525.46" x2="226.4" y2="530.26" stroke="#868686" stroke-width="0.95"/>
<rect x="187.2" y="523.43" width="19.3" height="8.85" fill="#a8a65f" stroke="#4f4d2c" stroke-width="0.8" stroke-opacity="0.75"/>
<line x1="193.4" y1="523.43" x2="193.4" y2="532.29" stroke="#4f4d2c" stroke-width="1.0" stroke-opacity="0.65"/>
<line x1="173.5" y1="537.31" x2="191.6" y2="537.31" stroke="#868686" stroke-width="0.95"/>
<line x1="211.5" y1="537.31" x2="228.6" y2="537.31" stroke="#868686" stroke-width="0.95"/>
<line x1="173.5" y1="534.91" x2="173.5" y2="539.71" stroke="#868686" stroke-width="0.95"/>
<line x1="228.6" y1="534.91" x2="228.6" y2="539.71" stroke="#868686" stroke-width="0.95"/>
<rect x="191.6" y="532.88" width="19.9" height="8.85" fill="#63a4a3" stroke="#2e4f4e" stroke-width="0.8" stroke-opacity="0.75"/>
<line x1="200.3" y1="532.88" x2="200.3" y2="541.74" stroke="#2e4f4e" stroke-width="1.0" stroke-opacity="0.65"/>
<line x1="184.2" y1="546.76" x2="208.3" y2="546.76" stroke="#868686" stroke-width="0.95"/>
<line x1="246.7" y1="546.76" x2="297.6" y2="546.76" stroke="#868686" stroke-width="0.95"/>
<line x1="184.2" y1="544.36" x2="184.2" y2="549.16" stroke="#868686" stroke-width="0.95"/>
<line x1="297.6" y1="544.36" x2="297.6" y2="549.16" stroke="#868686" stroke-width="0.95"/>
<rect x="208.3" y="542.33" width="38.4" height="8.85" fill="#ad659c" stroke="#553048" stroke-width="0.8" stroke-opacity="0.75"/>
<line x1="232.3" y1="542.33" x2="232.3" y2="551.19" stroke="#553048" stroke-width="1.0" stroke-opacity="0.65"/>
<line x1="182.7" y1="563.39" x2="194.1" y2="563.39" stroke="#868686" stroke-width="0.95"/>
<line x1="202.5" y1="563.39" x2="212.5" y2="563.39" stroke="#868686" stroke-width="0.95"/>
<line x1="182.7" y1="560.99" x2="182.7" y2="565.79" stroke="#868686" stroke-width="0.95"/>
<line x1="212.5" y1="560.99" x2="212.5" y2="565.79" stroke="#868686" stroke-width="0.95"/>
<rect x="194.1" y="558.97" width="8.4" height="8.85" fill="#a8a65f" stroke="#4f4d2c" stroke-width="0.8" stroke-opacity="0.75"/>
<line x1="197.1" y1="558.97" x2="197.1" y2="567.82" stroke="#4f4d2c" stroke-width="1.0" stroke-opacity="0.65"/>
<line x1="180.2" y1="572.84" x2="193.4" y2="572.84" stroke="#868686" stroke-width="0.95"/>
<line x1="205" y1="572.84" x2="220.7" y2="572.84" stroke="#868686" stroke-width="0.95"/>
<line x1="180.2" y1="570.44" x2="180.2" y2="575.24" stroke="#868686" stroke-width="0.95"/>
<line x1="220.7" y1="570.44" x2="220.7" y2="575.24" stroke="#868686" stroke-width="0.95"/>
<rect x="193.4" y="568.42" width="11.6" height="8.85" fill="#63a4a3" stroke="#2e4f4e" stroke-width="0.8" stroke-opacity="0.75"/>
<line x1="199.1" y1="568.42" x2="199.1" y2="577.27" stroke="#2e4f4e" stroke-width="1.0" stroke-opacity="0.65"/>
<line x1="183.4" y1="582.29" x2="200.1" y2="582.29" stroke="#868686" stroke-width="0.95"/>
<line x1="216.4" y1="582.29" x2="238.8" y2="582.29" stroke="#868686" stroke-width="0.95"/>
<line x1="183.4" y1="579.89" x2="183.4" y2="584.69" stroke="#868686" stroke-width="0.95"/>
<line x1="238.8" y1="579.89" x2="238.8" y2="584.69" stroke="#868686" stroke-width="0.95"/>
<rect x="200.1" y="577.87" width="16.3" height="8.85" fill="#ad659c" stroke="#553048" stroke-width="0.8" stroke-opacity="0.75"/>
<line x1="206.5" y1="577.87" x2="206.5" y2="586.72" stroke="#553048" stroke-width="1.0" stroke-opacity="0.65"/>
<line x1="161.8" y1="598.92" x2="185.2" y2="598.92" stroke="#868686" stroke-width="0.95"/>
<line x1="211.5" y1="598.92" x2="228.1" y2="598.92" stroke="#868686" stroke-width="0.95"/>
<line x1="161.8" y1="596.52" x2="161.8" y2="601.32" stroke="#868686" stroke-width="0.95"/>
<line x1="228.1" y1="596.52" x2="228.1" y2="601.32" stroke="#868686" stroke-width="0.95"/>
<rect x="185.2" y="594.5" width="26.3" height="8.85" fill="#a8a65f" stroke="#4f4d2c" stroke-width="0.8" stroke-opacity="0.75"/>
<line x1="199.6" y1="594.5" x2="199.6" y2="603.35" stroke="#4f4d2c" stroke-width="1.0" stroke-opacity="0.65"/>
<line x1="163.1" y1="608.37" x2="188.4" y2="608.37" stroke="#868686" stroke-width="0.95"/>
<line x1="221.4" y1="608.37" x2="262.1" y2="608.37" stroke="#868686" stroke-width="0.95"/>
<line x1="163.1" y1="605.97" x2="163.1" y2="610.77" stroke="#868686" stroke-width="0.95"/>
<line x1="262.1" y1="605.97" x2="262.1" y2="610.77" stroke="#868686" stroke-width="0.95"/>
<rect x="188.4" y="603.95" width="33" height="8.85" fill="#63a4a3" stroke="#2e4f4e" stroke-width="0.8" stroke-opacity="0.75"/>
<line x1="203.3" y1="603.95" x2="203.3" y2="612.8" stroke="#2e4f4e" stroke-width="1.0" stroke-opacity="0.65"/>
<line x1="169.8" y1="617.82" x2="191.4" y2="617.82" stroke="#868686" stroke-width="0.95"/>
<line x1="237.5" y1="617.82" x2="282.7" y2="617.82" stroke="#868686" stroke-width="0.95"/>
<line x1="169.8" y1="615.42" x2="169.8" y2="620.22" stroke="#868686" stroke-width="0.95"/>
<line x1="282.7" y1="615.42" x2="282.7" y2="620.22" stroke="#868686" stroke-width="0.95"/>
<rect x="191.4" y="613.39" width="46.1" height="8.85" fill="#ad659c" stroke="#553048" stroke-width="0.8" stroke-opacity="0.75"/>
<line x1="214" y1="613.39" x2="214" y2="622.25" stroke="#553048" stroke-width="1.0" stroke-opacity="0.65"/>
<line x1="181.4" y1="634.45" x2="191.4" y2="634.45" stroke="#868686" stroke-width="0.95"/>
<line x1="202.8" y1="634.45" x2="214" y2="634.45" stroke="#868686" stroke-width="0.95"/>
<line x1="181.4" y1="632.05" x2="181.4" y2="636.85" stroke="#868686" stroke-width="0.95"/>
<line x1="214" y1="632.05" x2="214" y2="636.85" stroke="#868686" stroke-width="0.95"/>
<rect x="191.4" y="630.02" width="11.4" height="8.85" fill="#a8a65f" stroke="#4f4d2c" stroke-width="0.8" stroke-opacity="0.75"/>
<line x1="197.6" y1="630.02" x2="197.6" y2="638.88" stroke="#4f4d2c" stroke-width="1.0" stroke-opacity="0.65"/>
<line x1="181.4" y1="643.9" x2="190.1" y2="643.9" stroke="#868686" stroke-width="0.95"/>
<line x1="201.6" y1="643.9" x2="218.7" y2="643.9" stroke="#868686" stroke-width="0.95"/>
<line x1="181.4" y1="641.5" x2="181.4" y2="646.3" stroke="#868686" stroke-width="0.95"/>
<line x1="218.7" y1="641.5" x2="218.7" y2="646.3" stroke="#868686" stroke-width="0.95"/>
<rect x="190.1" y="639.48" width="11.5" height="8.85" fill="#63a4a3" stroke="#2e4f4e" stroke-width="0.8" stroke-opacity="0.75"/>
<line x1="193.9" y1="639.48" x2="193.9" y2="648.33" stroke="#2e4f4e" stroke-width="1.0" stroke-opacity="0.65"/>
<line x1="186.7" y1="653.35" x2="195.1" y2="653.35" stroke="#868686" stroke-width="0.95"/>
<line x1="206.5" y1="653.35" x2="219.4" y2="653.35" stroke="#868686" stroke-width="0.95"/>
<line x1="186.7" y1="650.95" x2="186.7" y2="655.75" stroke="#868686" stroke-width="0.95"/>
<line x1="219.4" y1="650.95" x2="219.4" y2="655.75" stroke="#868686" stroke-width="0.95"/>
<rect x="195.1" y="648.92" width="11.4" height="8.85" fill="#ad659c" stroke="#553048" stroke-width="0.8" stroke-opacity="0.75"/>
<line x1="200.3" y1="648.92" x2="200.3" y2="657.78" stroke="#553048" stroke-width="1.0" stroke-opacity="0.65"/>
<line x1="181" y1="669.98" x2="203.5" y2="669.98" stroke="#868686" stroke-width="0.95"/>
<line x1="241.8" y1="669.98" x2="283.1" y2="669.98" stroke="#868686" stroke-width="0.95"/>
<line x1="181" y1="667.58" x2="181" y2="672.38" stroke="#868686" stroke-width="0.95"/>
<line x1="283.1" y1="667.58" x2="283.1" y2="672.38" stroke="#868686" stroke-width="0.95"/>
<rect x="203.5" y="665.56" width="38.3" height="8.85" fill="#a8a65f" stroke="#4f4d2c" stroke-width="0.8" stroke-opacity="0.75"/>
<line x1="222.3" y1="665.56" x2="222.3" y2="674.41" stroke="#4f4d2c" stroke-width="1.0" stroke-opacity="0.65"/>
<line x1="169.9" y1="679.43" x2="196.3" y2="679.43" stroke="#868686" stroke-width="0.95"/>
<line x1="234.9" y1="679.43" x2="288.8" y2="679.43" stroke="#868686" stroke-width="0.95"/>
<line x1="169.9" y1="677.03" x2="169.9" y2="681.83" stroke="#868686" stroke-width="0.95"/>
<line x1="288.8" y1="677.03" x2="288.8" y2="681.83" stroke="#868686" stroke-width="0.95"/>
<rect x="196.3" y="675.01" width="38.6" height="8.85" fill="#63a4a3" stroke="#2e4f4e" stroke-width="0.8" stroke-opacity="0.75"/>
<line x1="214.2" y1="675.01" x2="214.2" y2="683.86" stroke="#2e4f4e" stroke-width="1.0" stroke-opacity="0.65"/>
<line x1="175.9" y1="688.88" x2="201.4" y2="688.88" stroke="#868686" stroke-width="0.95"/>
<line x1="226.8" y1="688.88" x2="262.1" y2="688.88" stroke="#868686" stroke-width="0.95"/>
<line x1="175.9" y1="686.48" x2="175.9" y2="691.28" stroke="#868686" stroke-width="0.95"/>
<line x1="262.1" y1="686.48" x2="262.1" y2="691.28" stroke="#868686" stroke-width="0.95"/>
<rect x="201.4" y="684.46" width="25.4" height="8.85" fill="#ad659c" stroke="#553048" stroke-width="0.8" stroke-opacity="0.75"/>
<line x1="217.2" y1="684.46" x2="217.2" y2="693.31" stroke="#553048" stroke-width="1.0" stroke-opacity="0.65"/>
<line x1="153.2" y1="448.2" x2="153.2" y2="697.3" stroke="#000" stroke-width="1.0"/>
<line x1="152.7" y1="697.3" x2="335.3" y2="697.3" stroke="#000" stroke-width="1.0"/>
<line x1="149.6" y1="466.25" x2="153.2" y2="466.25" stroke="#000" stroke-width="1.0"/>
<text x="146" y="470.65" font-size="10.6" text-anchor="end" fill="#000">Temperate/Boreal Forests</text>
<line x1="149.6" y1="501.78" x2="153.2" y2="501.78" stroke="#000" stroke-width="1.0"/>
<text x="146" y="506.18" font-size="10.6" text-anchor="end" fill="#000">Mediterranean</text>
<line x1="149.6" y1="537.31" x2="153.2" y2="537.31" stroke="#000" stroke-width="1.0"/>
<text x="146" y="541.71" font-size="10.6" text-anchor="end" fill="#000">Deserts</text>
<line x1="149.6" y1="572.84" x2="153.2" y2="572.84" stroke="#000" stroke-width="1.0"/>
<text x="146" y="577.24" font-size="10.6" text-anchor="end" fill="#000">Grasslands/Savannas</text>
<line x1="149.6" y1="608.37" x2="153.2" y2="608.37" stroke="#000" stroke-width="1.0"/>
<text x="146" y="612.77" font-size="10.6" text-anchor="end" fill="#000">Tropical/Subtropical Forests</text>
<line x1="149.6" y1="643.9" x2="153.2" y2="643.9" stroke="#000" stroke-width="1.0"/>
<text x="146" y="648.3" font-size="10.6" text-anchor="end" fill="#000">Alpine/Polar</text>
<line x1="149.6" y1="679.43" x2="153.2" y2="679.43" stroke="#000" stroke-width="1.0"/>
<text x="146" y="683.83" font-size="10.6" text-anchor="end" fill="#000">Wetlands</text>
<line x1="163.8" y1="697.3" x2="163.8" y2="700.9" stroke="#000" stroke-width="1.0"/>
<text x="163.8" y="713" font-size="10.5" text-anchor="middle" fill="#000">0.15</text>
<line x1="200.8" y1="697.3" x2="200.8" y2="700.9" stroke="#000" stroke-width="1.0"/>
<text x="200.8" y="713" font-size="10.5" text-anchor="middle" fill="#000">0.20</text>
<line x1="237.8" y1="697.3" x2="237.8" y2="700.9" stroke="#000" stroke-width="1.0"/>
<text x="237.8" y="713" font-size="10.5" text-anchor="middle" fill="#000">0.25</text>
<line x1="274.8" y1="697.3" x2="274.8" y2="700.9" stroke="#000" stroke-width="1.0"/>
<text x="274.8" y="713" font-size="10.5" text-anchor="middle" fill="#000">0.30</text>
<line x1="311.8" y1="697.3" x2="311.8" y2="700.9" stroke="#000" stroke-width="1.0"/>
<text x="311.8" y="713" font-size="10.5" text-anchor="middle" fill="#000">0.35</text>
<text x="243.6" y="725.6" font-size="11.5" text-anchor="middle" fill="#000" font-style="italic">nRMSE</text>
<text transform="translate(9.6,572.6) rotate(-90)" font-size="12" text-anchor="middle" font-weight="bold">Biome</text>
<text x="149.6" y="442.2" font-size="8.2" text-anchor="start" fill="#000" font-weight="bold" stroke="#000" stroke-width="0.25">c</text>
<rect x="262.9" y="458.3" width="21.8" height="7.8" fill="#a8a65f" stroke="#4f4d2c" stroke-width="0.8" stroke-opacity="0.75"/>
<text x="293.4" y="466.1" font-size="10.5" text-anchor="start" fill="#000">SCI</text>
<rect x="262.9" y="474.4" width="21.8" height="7.5" fill="#63a4a3" stroke="#2e4f4e" stroke-width="0.8" stroke-opacity="0.75"/>
<text x="293.4" y="481.9" font-size="10.5" text-anchor="start" fill="#000">COMB</text>
<rect x="262.9" y="490.2" width="21.8" height="7.6" fill="#ad659c" stroke="#553048" stroke-width="0.8" stroke-opacity="0.75"/>
<text x="293.4" y="497.6" font-size="10.5" text-anchor="start" fill="#000">CIT</text>
<polyline points="434.3,428.7 475.6,164.4 516.9,189.6 558.2,215 599.5,240.2" fill="none" stroke="#1f77b4" stroke-width="0.92"/>
<circle cx="434.3" cy="428.7" r="1.6" fill="#1f77b4"/>
<circle cx="475.6" cy="164.4" r="1.6" fill="#1f77b4"/>
<circle cx="516.9" cy="189.6" r="1.6" fill="#1f77b4"/>
<circle cx="558.2" cy="215" r="1.6" fill="#1f77b4"/>
<circle cx="599.5" cy="240.2" r="1.6" fill="#1f77b4"/>
<polyline points="434.3,480.5 475.6,372.3 516.9,400.9 558.2,431.6 599.5,485.3" fill="none" stroke="#ff7f0e" stroke-width="0.92"/>
<circle cx="434.3" cy="480.5" r="1.6" fill="#ff7f0e"/>
<circle cx="475.6" cy="372.3" r="1.6" fill="#ff7f0e"/>
<circle cx="516.9" cy="400.9" r="1.6" fill="#ff7f0e"/>
<circle cx="558.2" cy="431.6" r="1.6" fill="#ff7f0e"/>
<circle cx="599.5" cy="485.3" r="1.6" fill="#ff7f0e"/>
<polyline points="434.3,415.7 475.6,337.6 516.9,334.2 558.2,366 599.5,405.2" fill="none" stroke="#2ca02c" stroke-width="0.92"/>
<circle cx="434.3" cy="415.7" r="1.6" fill="#2ca02c"/>
<circle cx="475.6" cy="337.6" r="1.6" fill="#2ca02c"/>
<circle cx="516.9" cy="334.2" r="1.6" fill="#2ca02c"/>
<circle cx="558.2" cy="366" r="1.6" fill="#2ca02c"/>
<circle cx="599.5" cy="405.2" r="1.6" fill="#2ca02c"/>
<polyline points="434.3,287.6 475.6,191.6 516.9,147.5 558.2,104.5 599.5,110.3" fill="none" stroke="#d62728" stroke-width="0.92"/>
<circle cx="434.3" cy="287.6" r="1.6" fill="#d62728"/>
<circle cx="475.6" cy="191.6" r="1.6" fill="#d62728"/>
<circle cx="516.9" cy="147.5" r="1.6" fill="#d62728"/>
<circle cx="558.2" cy="104.5" r="1.6" fill="#d62728"/>
<circle cx="599.5" cy="110.3" r="1.6" fill="#d62728"/>
<polyline points="434.3,248 475.6,237.8 516.9,260 558.2,277.6 599.5,259.3" fill="none" stroke="#9467bd" stroke-width="0.92"/>
<circle cx="434.3" cy="248" r="1.6" fill="#9467bd"/>
<circle cx="475.6" cy="237.8" r="1.6" fill="#9467bd"/>
<circle cx="516.9" cy="260" r="1.6" fill="#9467bd"/>
<circle cx="558.2" cy="277.6" r="1.6" fill="#9467bd"/>
<circle cx="599.5" cy="259.3" r="1.6" fill="#9467bd"/>
<polyline points="434.3,328.9 475.6,297.8 516.9,348.1 558.2,423.3 599.5,429.9" fill="none" stroke="#8c564b" stroke-width="0.92"/>
<circle cx="434.3" cy="328.9" r="1.6" fill="#8c564b"/>
<circle cx="475.6" cy="297.8" r="1.6" fill="#8c564b"/>
<circle cx="516.9" cy="348.1" r="1.6" fill="#8c564b"/>
<circle cx="558.2" cy="423.3" r="1.6" fill="#8c564b"/>
<circle cx="599.5" cy="429.9" r="1.6" fill="#8c564b"/>
<polyline points="434.3,250.7 475.6,158.7 516.9,115.8 558.2,91.4 599.5,79.4" fill="none" stroke="#e377c2" stroke-width="0.92"/>
<circle cx="434.3" cy="250.7" r="1.6" fill="#e377c2"/>
<circle cx="475.6" cy="158.7" r="1.6" fill="#e377c2"/>
<circle cx="516.9" cy="115.8" r="1.6" fill="#e377c2"/>
<circle cx="558.2" cy="91.4" r="1.6" fill="#e377c2"/>
<circle cx="599.5" cy="79.4" r="1.6" fill="#e377c2"/>
<polyline points="434.3,290.1 475.6,202.3 516.9,161.6 558.2,175.8 599.5,198.1" fill="none" stroke="#7f7f7f" stroke-width="0.92"/>
<circle cx="434.3" cy="290.1" r="1.6" fill="#7f7f7f"/>
<circle cx="475.6" cy="202.3" r="1.6" fill="#7f7f7f"/>
<circle cx="516.9" cy="161.6" r="1.6" fill="#7f7f7f"/>
<circle cx="558.2" cy="175.8" r="1.6" fill="#7f7f7f"/>
<circle cx="599.5" cy="198.1" r="1.6" fill="#7f7f7f"/>
<polyline points="434.3,382 475.6,405.2 516.9,453.5 558.2,502.1 599.5,550" fill="none" stroke="#bcbd22" stroke-width="0.92"/>
<circle cx="434.3" cy="382" r="1.6" fill="#bcbd22"/>
<circle cx="475.6" cy="405.2" r="1.6" fill="#bcbd22"/>
<circle cx="516.9" cy="453.5" r="1.6" fill="#bcbd22"/>
<circle cx="558.2" cy="502.1" r="1.6" fill="#bcbd22"/>
<circle cx="599.5" cy="550" r="1.6" fill="#bcbd22"/>
<polyline points="434.3,432.4 475.6,396.3 516.9,356.5 558.2,392.2 599.5,418.7" fill="none" stroke="#17becf" stroke-width="0.92"/>
<circle cx="434.3" cy="432.4" r="1.6" fill="#17becf"/>
<circle cx="475.6" cy="396.3" r="1.6" fill="#17becf"/>
<circle cx="516.9" cy="356.5" r="1.6" fill="#17becf"/>
<circle cx="558.2" cy="392.2" r="1.6" fill="#17becf"/>
<circle cx="599.5" cy="418.7" r="1.6" fill="#17becf"/>
<polyline points="434.3,387.6 475.6,434.5 516.9,436.1 558.2,490.3 599.5,549.4" fill="none" stroke="#1f77b4" stroke-width="0.92"/>
<circle cx="434.3" cy="387.6" r="1.6" fill="#1f77b4"/>
<circle cx="475.6" cy="434.5" r="1.6" fill="#1f77b4"/>
<circle cx="516.9" cy="436.1" r="1.6" fill="#1f77b4"/>
<circle cx="558.2" cy="490.3" r="1.6" fill="#1f77b4"/>
<circle cx="599.5" cy="549.4" r="1.6" fill="#1f77b4"/>
<polyline points="434.3,345.3 475.6,257 516.9,227.5 558.2,216.5 599.5,147.3" fill="none" stroke="#ff7f0e" stroke-width="0.92"/>
<circle cx="434.3" cy="345.3" r="1.6" fill="#ff7f0e"/>
<circle cx="475.6" cy="257" r="1.6" fill="#ff7f0e"/>
<circle cx="516.9" cy="227.5" r="1.6" fill="#ff7f0e"/>
<circle cx="558.2" cy="216.5" r="1.6" fill="#ff7f0e"/>
<circle cx="599.5" cy="147.3" r="1.6" fill="#ff7f0e"/>
<polyline points="434.3,369.7 475.6,237.3 516.9,189.4 558.2,162.7 599.5,97.3" fill="none" stroke="#2ca02c" stroke-width="0.92"/>
<circle cx="434.3" cy="369.7" r="1.6" fill="#2ca02c"/>
<circle cx="475.6" cy="237.3" r="1.6" fill="#2ca02c"/>
<circle cx="516.9" cy="189.4" r="1.6" fill="#2ca02c"/>
<circle cx="558.2" cy="162.7" r="1.6" fill="#2ca02c"/>
<circle cx="599.5" cy="97.3" r="1.6" fill="#2ca02c"/>
<polyline points="434.3,213.8 475.6,158.5 516.9,181.3 558.2,237.6 599.5,251.1" fill="none" stroke="#d62728" stroke-width="0.92"/>
<circle cx="434.3" cy="213.8" r="1.6" fill="#d62728"/>
<circle cx="475.6" cy="158.5" r="1.6" fill="#d62728"/>
<circle cx="516.9" cy="181.3" r="1.6" fill="#d62728"/>
<circle cx="558.2" cy="237.6" r="1.6" fill="#d62728"/>
<circle cx="599.5" cy="251.1" r="1.6" fill="#d62728"/>
<polyline points="434.3,298.2 475.6,226 516.9,220 558.2,249.6 599.5,240.7" fill="none" stroke="#9467bd" stroke-width="0.92"/>
<circle cx="434.3" cy="298.2" r="1.6" fill="#9467bd"/>
<circle cx="475.6" cy="226" r="1.6" fill="#9467bd"/>
<circle cx="516.9" cy="220" r="1.6" fill="#9467bd"/>
<circle cx="558.2" cy="249.6" r="1.6" fill="#9467bd"/>
<circle cx="599.5" cy="240.7" r="1.6" fill="#9467bd"/>
<polyline points="434.3,380.8 475.6,356.2 516.9,309.7 558.2,345.4 599.5,337.6" fill="none" stroke="#8c564b" stroke-width="0.92"/>
<circle cx="434.3" cy="380.8" r="1.6" fill="#8c564b"/>
<circle cx="475.6" cy="356.2" r="1.6" fill="#8c564b"/>
<circle cx="516.9" cy="309.7" r="1.6" fill="#8c564b"/>
<circle cx="558.2" cy="345.4" r="1.6" fill="#8c564b"/>
<circle cx="599.5" cy="337.6" r="1.6" fill="#8c564b"/>
<polyline points="434.3,514.4 475.6,446.5 516.9,403.1 558.2,365.3 599.5,272.6" fill="none" stroke="#e377c2" stroke-width="0.92"/>
<circle cx="434.3" cy="514.4" r="1.6" fill="#e377c2"/>
<circle cx="475.6" cy="446.5" r="1.6" fill="#e377c2"/>
<circle cx="516.9" cy="403.1" r="1.6" fill="#e377c2"/>
<circle cx="558.2" cy="365.3" r="1.6" fill="#e377c2"/>
<circle cx="599.5" cy="272.6" r="1.6" fill="#e377c2"/>
<polyline points="434.3,305.1 475.6,258.9 516.9,223 558.2,249.6 599.5,257.4" fill="none" stroke="#7f7f7f" stroke-width="0.92"/>
<circle cx="434.3" cy="305.1" r="1.6" fill="#7f7f7f"/>
<circle cx="475.6" cy="258.9" r="1.6" fill="#7f7f7f"/>
<circle cx="516.9" cy="223" r="1.6" fill="#7f7f7f"/>
<circle cx="558.2" cy="249.6" r="1.6" fill="#7f7f7f"/>
<circle cx="599.5" cy="257.4" r="1.6" fill="#7f7f7f"/>
<polyline points="434.3,214 475.6,186.5 516.9,207.4 558.2,258.3 599.5,333.5" fill="none" stroke="#bcbd22" stroke-width="0.92"/>
<circle cx="434.3" cy="214" r="1.6" fill="#bcbd22"/>
<circle cx="475.6" cy="186.5" r="1.6" fill="#bcbd22"/>
<circle cx="516.9" cy="207.4" r="1.6" fill="#bcbd22"/>
<circle cx="558.2" cy="258.3" r="1.6" fill="#bcbd22"/>
<circle cx="599.5" cy="333.5" r="1.6" fill="#bcbd22"/>
<polyline points="434.3,387.3 475.6,325.2 516.9,245 558.2,216.3 599.5,190" fill="none" stroke="#17becf" stroke-width="0.92"/>
<circle cx="434.3" cy="387.3" r="1.6" fill="#17becf"/>
<circle cx="475.6" cy="325.2" r="1.6" fill="#17becf"/>
<circle cx="516.9" cy="245" r="1.6" fill="#17becf"/>
<circle cx="558.2" cy="216.3" r="1.6" fill="#17becf"/>
<circle cx="599.5" cy="190" r="1.6" fill="#17becf"/>
<polyline points="434.3,349.9 475.6,209.2 516.9,150.3 558.2,138.5 599.5,103.8" fill="none" stroke="#1f77b4" stroke-width="0.92"/>
<circle cx="434.3" cy="349.9" r="1.6" fill="#1f77b4"/>
<circle cx="475.6" cy="209.2" r="1.6" fill="#1f77b4"/>
<circle cx="516.9" cy="150.3" r="1.6" fill="#1f77b4"/>
<circle cx="558.2" cy="138.5" r="1.6" fill="#1f77b4"/>
<circle cx="599.5" cy="103.8" r="1.6" fill="#1f77b4"/>
<polyline points="434.3,410.1 475.6,347.1 516.9,320.5 558.2,361.6 599.5,349.5" fill="none" stroke="#ff7f0e" stroke-width="0.92"/>
<circle cx="434.3" cy="410.1" r="1.6" fill="#ff7f0e"/>
<circle cx="475.6" cy="347.1" r="1.6" fill="#ff7f0e"/>
<circle cx="516.9" cy="320.5" r="1.6" fill="#ff7f0e"/>
<circle cx="558.2" cy="361.6" r="1.6" fill="#ff7f0e"/>
<circle cx="599.5" cy="349.5" r="1.6" fill="#ff7f0e"/>
<polyline points="434.3,272.8 475.6,218.5 516.9,234 558.2,288.5 599.5,366.1" fill="none" stroke="#2ca02c" stroke-width="0.92"/>
<circle cx="434.3" cy="272.8" r="1.6" fill="#2ca02c"/>
<circle cx="475.6" cy="218.5" r="1.6" fill="#2ca02c"/>
<circle cx="516.9" cy="234" r="1.6" fill="#2ca02c"/>
<circle cx="558.2" cy="288.5" r="1.6" fill="#2ca02c"/>
<circle cx="599.5" cy="366.1" r="1.6" fill="#2ca02c"/>
<polyline points="434.3,385.6 475.6,231.8 516.9,219.6 558.2,280.6 599.5,365.9" fill="none" stroke="#d62728" stroke-width="0.92"/>
<circle cx="434.3" cy="385.6" r="1.6" fill="#d62728"/>
<circle cx="475.6" cy="231.8" r="1.6" fill="#d62728"/>
<circle cx="516.9" cy="219.6" r="1.6" fill="#d62728"/>
<circle cx="558.2" cy="280.6" r="1.6" fill="#d62728"/>
<circle cx="599.5" cy="365.9" r="1.6" fill="#d62728"/>
<polyline points="434.3,480.7 475.6,402.1 516.9,282.3 558.2,230.7 599.5,173.2" fill="none" stroke="#9467bd" stroke-width="0.92"/>
<circle cx="434.3" cy="480.7" r="1.6" fill="#9467bd"/>
<circle cx="475.6" cy="402.1" r="1.6" fill="#9467bd"/>
<circle cx="516.9" cy="282.3" r="1.6" fill="#9467bd"/>
<circle cx="558.2" cy="230.7" r="1.6" fill="#9467bd"/>
<circle cx="599.5" cy="173.2" r="1.6" fill="#9467bd"/>
<polyline points="434.3,363.5 475.6,262.6 516.9,241.1 558.2,231.4 599.5,202.7" fill="none" stroke="#8c564b" stroke-width="0.92"/>
<circle cx="434.3" cy="363.5" r="1.6" fill="#8c564b"/>
<circle cx="475.6" cy="262.6" r="1.6" fill="#8c564b"/>
<circle cx="516.9" cy="241.1" r="1.6" fill="#8c564b"/>
<circle cx="558.2" cy="231.4" r="1.6" fill="#8c564b"/>
<circle cx="599.5" cy="202.7" r="1.6" fill="#8c564b"/>
<polyline points="434.3,399.6 475.6,292.7 516.9,294.7 558.2,335.6 599.5,448.4" fill="none" stroke="#e377c2" stroke-width="0.92"/>
<circle cx="434.3" cy="399.6" r="1.6" fill="#e377c2"/>
<circle cx="475.6" cy="292.7" r="1.6" fill="#e377c2"/>
<circle cx="516.9" cy="294.7" r="1.6" fill="#e377c2"/>
<circle cx="558.2" cy="335.6" r="1.6" fill="#e377c2"/>
<circle cx="599.5" cy="448.4" r="1.6" fill="#e377c2"/>
<polyline points="434.3,256.6 475.6,242.7 516.9,244.2 558.2,277.6 599.5,301.9" fill="none" stroke="#7f7f7f" stroke-width="0.92"/>
<circle cx="434.3" cy="256.6" r="1.6" fill="#7f7f7f"/>
<circle cx="475.6" cy="242.7" r="1.6" fill="#7f7f7f"/>
<circle cx="516.9" cy="244.2" r="1.6" fill="#7f7f7f"/>
<circle cx="558.2" cy="277.6" r="1.6" fill="#7f7f7f"/>
<circle cx="599.5" cy="301.9" r="1.6" fill="#7f7f7f"/>
<polyline points="434.3,247 475.6,144.9 516.9,119.6 558.2,104.2 599.5,50.3" fill="none" stroke="#bcbd22" stroke-width="0.92"/>
<circle cx="434.3" cy="247" r="1.6" fill="#bcbd22"/>
<circle cx="475.6" cy="144.9" r="1.6" fill="#bcbd22"/>
<circle cx="516.9" cy="119.6" r="1.6" fill="#bcbd22"/>
<circle cx="558.2" cy="104.2" r="1.6" fill="#bcbd22"/>
<circle cx="599.5" cy="50.3" r="1.6" fill="#bcbd22"/>
<polyline points="434.3,287.2 475.6,225.2 516.9,259.5 558.2,310.5 599.5,397.9" fill="none" stroke="#17becf" stroke-width="0.92"/>
<circle cx="434.3" cy="287.2" r="1.6" fill="#17becf"/>
<circle cx="475.6" cy="225.2" r="1.6" fill="#17becf"/>
<circle cx="516.9" cy="259.5" r="1.6" fill="#17becf"/>
<circle cx="558.2" cy="310.5" r="1.6" fill="#17becf"/>
<circle cx="599.5" cy="397.9" r="1.6" fill="#17becf"/>
<polyline points="434.3,666.6 475.6,615.8 516.9,548.6 558.2,513.8 599.5,453.9" fill="none" stroke="#1f77b4" stroke-width="0.92"/>
<circle cx="434.3" cy="666.6" r="1.6" fill="#1f77b4"/>
<circle cx="475.6" cy="615.8" r="1.6" fill="#1f77b4"/>
<circle cx="516.9" cy="548.6" r="1.6" fill="#1f77b4"/>
<circle cx="558.2" cy="513.8" r="1.6" fill="#1f77b4"/>
<circle cx="599.5" cy="453.9" r="1.6" fill="#1f77b4"/>
<text x="604.6" y="57.8" font-size="7.9" text-anchor="start" fill="#bcbd22">Stem conduit diameter</text>
<text x="604.6" y="76.3" font-size="7.9" text-anchor="start" fill="#e377c2">Leaf area</text>
<text x="604.6" y="90.6" font-size="7.9" text-anchor="start" fill="#2ca02c">Leaf fresh mass</text>
<text x="604.6" y="102.9" font-size="7.9" text-anchor="start" fill="#1f77b4">Leaf dry mass</text>
<text x="604.6" y="117" font-size="7.9" text-anchor="start" fill="#d62728">Stem conduit density</text>
<text x="604.6" y="154.8" font-size="7.9" text-anchor="start" fill="#ff7f0e">Leaf width</text>
<text x="604.6" y="165.9" font-size="7.9" text-anchor="start" fill="#9467bd">Seed length</text>
<text x="604.6" y="183" font-size="7.9" text-anchor="start" fill="#17becf">Seed mass</text>
<text x="604.6" y="196.4" font-size="7.9" text-anchor="start" fill="#7f7f7f">Leaf delta 15N</text>
<text x="604.6" y="209.6" font-size="7.9" text-anchor="start" fill="#8c564b">Leaf length</text>
<text x="604.6" y="223" font-size="7.9" text-anchor="start" fill="#1f77b4">Seed number</text>
<text x="604.6" y="234.4" font-size="7.9" text-anchor="start" fill="#9467bd">Leaf C</text>
<text x="604.6" y="246.3" font-size="7.9" text-anchor="start" fill="#d62728">Leaf N (area)</text>
<text x="604.6" y="259.4" font-size="7.9" text-anchor="start" fill="#7f7f7f">Leaf P</text>
<text x="604.6" y="271.6" font-size="7.9" text-anchor="start" fill="#9467bd">Rooting depth</text>
<text x="604.6" y="282.7" font-size="7.9" text-anchor="start" fill="#e377c2">Dispersal unit length</text>
<text x="604.6" y="309.3" font-size="7.9" text-anchor="start" fill="#7f7f7f">SSD</text>
<text x="604.6" y="317.2" font-size="7.9" text-anchor="start" fill="#bcbd22">SLA</text>
<text x="604.6" y="335.2" font-size="7.9" text-anchor="start" fill="#8c564b">Stem diameter</text>
<text x="604.6" y="347.4" font-size="7.9" text-anchor="start" fill="#ff7f0e">Plant height</text>
<text x="604.6" y="361.3" font-size="7.9" text-anchor="start" fill="#2ca02c">Leaf C/N ratio</text>
<text x="604.6" y="372.1" font-size="7.9" text-anchor="start" fill="#d62728">Seed germination rate</text>
<text x="604.6" y="394.5" font-size="7.9" text-anchor="start" fill="#17becf">Leaf N (mass)</text>
<text x="604.6" y="411.5" font-size="7.9" text-anchor="start" fill="#2ca02c">Conduit element length</text>
<text x="604.6" y="424.4" font-size="7.9" text-anchor="start" fill="#17becf">SRL (fine)</text>
<text x="604.6" y="437.1" font-size="7.9" text-anchor="start" fill="#8c564b">Leaf thickness</text>
<text x="604.6" y="452.8" font-size="7.9" text-anchor="start" fill="#e377c2">SRL</text>
<text x="604.6" y="464.7" font-size="7.9" text-anchor="start" fill="#1f77b4">Wood ray density</text>
<text x="604.6" y="492.4" font-size="7.9" text-anchor="start" fill="#ff7f0e">Wood fiber lengths</text>
<text x="604.6" y="543.3" font-size="7.9" text-anchor="start" fill="#1f77b4">LDMC</text>
<text x="604.6" y="557.2" font-size="7.9" text-anchor="start" fill="#bcbd22">Leaf water content</text>
<line x1="426" y1="19.7" x2="426" y2="697.5" stroke="#808080" stroke-width="1.9"/>
<line x1="425.1" y1="697.5" x2="608.2" y2="697.5" stroke="#000" stroke-width="1.0"/>
<line x1="422.2" y1="691.03" x2="426.2" y2="691.03" stroke="#000" stroke-width="1.0"/>
<text x="419" y="695.43" font-size="10.5" text-anchor="end" fill="#000">0.2</text>
<line x1="422.2" y1="579.09" x2="426.2" y2="579.09" stroke="#000" stroke-width="1.0"/>
<text x="419" y="583.49" font-size="10.5" text-anchor="end" fill="#000">0.3</text>
<line x1="422.2" y1="467.15" x2="426.2" y2="467.15" stroke="#000" stroke-width="1.0"/>
<text x="419" y="471.55" font-size="10.5" text-anchor="end" fill="#000">0.4</text>
<line x1="422.2" y1="355.21" x2="426.2" y2="355.21" stroke="#000" stroke-width="1.0"/>
<text x="419" y="359.61" font-size="10.5" text-anchor="end" fill="#000">0.5</text>
<line x1="422.2" y1="243.27" x2="426.2" y2="243.27" stroke="#000" stroke-width="1.0"/>
<text x="419" y="247.67" font-size="10.5" text-anchor="end" fill="#000">0.6</text>
<line x1="422.2" y1="131.33" x2="426.2" y2="131.33" stroke="#000" stroke-width="1.0"/>
<text x="419" y="135.73" font-size="10.5" text-anchor="end" fill="#000">0.7</text>
<line x1="434.3" y1="697.5" x2="434.3" y2="701.3" stroke="#000" stroke-width="1.0"/>
<text x="434.3" y="712.5" font-size="10.5" text-anchor="middle" fill="#000">1 km</text>
<line x1="475.6" y1="697.5" x2="475.6" y2="701.3" stroke="#000" stroke-width="1.0"/>
<text x="475.6" y="712.5" font-size="10.5" text-anchor="middle" fill="#000">22 km</text>
<line x1="516.9" y1="697.5" x2="516.9" y2="701.3" stroke="#000" stroke-width="1.0"/>
<text x="516.9" y="712.5" font-size="10.5" text-anchor="middle" fill="#000">55 km</text>
<line x1="558.2" y1="697.5" x2="558.2" y2="701.3" stroke="#000" stroke-width="1.0"/>
<text x="558.2" y="712.5" font-size="10.5" text-anchor="middle" fill="#000">111 km</text>
<line x1="599.5" y1="697.5" x2="599.5" y2="701.3" stroke="#000" stroke-width="1.0"/>
<text x="599.5" y="712.5" font-size="10.5" text-anchor="middle" fill="#000">222km</text>
<text x="517.2" y="725.6" font-size="11.3" text-anchor="middle" fill="#000">Resolution</text>
<text transform="translate(399.3,357.5) rotate(-90)" font-size="11.8" text-anchor="middle">Pearson's <tspan font-style="italic">r</tspan></text>
<text x="553.4" y="15.1" font-size="12.0" text-anchor="middle" fill="#000">COMB</text>
<text x="422.2" y="5.9" font-size="7.2" text-anchor="start" fill="#000" font-weight="bold" stroke="#000" stroke-width="0.25">d</text>
</svg>
</body></html>
